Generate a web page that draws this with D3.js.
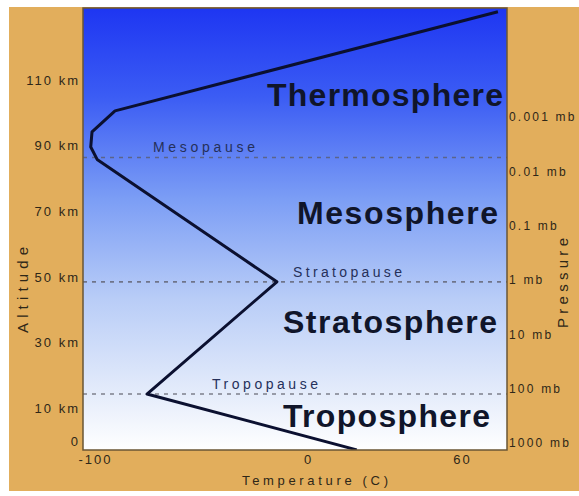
<!DOCTYPE html>
<html>
<head>
<meta charset="utf-8">
<script src="https://cdn.jsdelivr.net/npm/d3@7"></script>
<style>
  html, body { margin: 0; padding: 0; background: #ffffff; }
  svg { display: block; }
  text { font-family: "Liberation Sans", Arial, sans-serif; }
</style>
</head>
<body>
<svg id="chart" width="579" height="496"></svg>
<script>
// ---------------- data ----------------
// temperature profile: [temperature °C, altitude km]
const profileTemp = [19, -75.6, -14.6, -99, -102, -101.4, -90.6, 74];
const profileAlt  = [-2.7, 14.3, 48.5, 85.8, 89.6, 94.2, 100.6, 130.8];

const altTicks = [0, 10, 30, 50, 70, 90, 110];
const altTickLabels = ["0", "10 km", "30 km", "50 km", "70 km", "90 km", "110 km"];

const tempTicks = [-100, 0, 60];
const tempTickLabels = ["-100", "0", "60"];

const pressureTicks = [0.001, 0.01, 0.1, 1, 10, 100, 1000];
const pressureTickLabels = ["0.001 mb", "0.01 mb", "0.1 mb", "1 mb", "10 mb", "100 mb", "1000 mb"];

const pauseNames = ["Tropopause", "Stratopause", "Mesopause"];
const pauseAlts  = [14.3, 48.5, 86.4];

const layerNames = ["Troposphere", "Stratosphere", "Mesosphere", "Thermosphere"];
const layerAlts  = [4.2, 33, 66, 102];   // baseline altitudes of the big labels

// ---------------- layout ----------------
const svg = d3.select("#chart");
const plot = { left: 83, right: 507, top: 8, bottom: 450 };

const x = d3.scaleLinear().domain([-100, 0, 60]).range([95, 308, 462]);
const y = d3.scaleLinear().domain([0, 110]).range([441, 80]);
const yP = d3.scaleLog().domain([1000, 0.001]).range([443, 117]);

// outer background
svg.append("rect").attr("x", 9).attr("y", 7).attr("width", 570).attr("height", 484)
  .attr("fill", "#e2ae5c");

// gradient
const defs = svg.append("defs");
const grad = defs.append("linearGradient").attr("id", "sky")
  .attr("x1", 0).attr("y1", 0).attr("x2", 0).attr("y2", 1);
[[0, "#1e36f2"], [0.2, "#3b5cf4"], [0.43, "#7b9df5"], [0.66, "#b9cdf7"], [0.88, "#e6edfb"], [1, "#ffffff"]]
  .forEach(([o, c]) => grad.append("stop").attr("offset", o).attr("stop-color", c));
defs.append("clipPath").attr("id", "clip").append("rect")
  .attr("x", plot.left).attr("y", plot.top)
  .attr("width", plot.right - plot.left).attr("height", plot.bottom - plot.top);

svg.append("rect")
  .attr("x", plot.left).attr("y", plot.top)
  .attr("width", plot.right - plot.left).attr("height", plot.bottom - plot.top)
  .attr("fill", "url(#sky)");

const g = svg.append("g").attr("clip-path", "url(#clip)");

// pause dotted lines
g.selectAll("line.pause").data(pauseAlts).join("line")
  .attr("class", "pause")
  .attr("x1", plot.left).attr("x2", plot.right)
  .attr("y1", d => y(d)).attr("y2", d => y(d))
  .attr("stroke", "#5a5a66").attr("stroke-opacity", 0.75)
  .attr("stroke-width", 1.6).attr("stroke-dasharray", "4,5");

// pause labels
const pauseX = [212, 293, 153];
g.selectAll("text.pause").data(pauseNames).join("text")
  .attr("class", "pause")
  .attr("x", (d, i) => pauseX[i])
  .attr("y", (d, i) => y(pauseAlts[i]) - 5)
  .attr("font-size", 14)
  .attr("fill", "#25305a")
  .attr("textLength", (d, i) => [106, 109, 102][i])
  .attr("lengthAdjust", "spacing")
  .text(d => d);

// big layer labels
const layerRight = [490, 497, 498, 503];
const layerLen = [207, 214, 201, 236];
g.selectAll("text.layer").data(layerNames).join("text")
  .attr("class", "layer")
  .attr("x", (d, i) => layerRight[i] - layerLen[i])
  .attr("y", (d, i) => y(layerAlts[i]))
  .attr("font-size", 32)
  .attr("font-weight", (d, i) => i === 0 ? 600 : "bold")
  .attr("fill", "#10152a")
  .attr("textLength", (d, i) => layerLen[i])
  .attr("lengthAdjust", "spacing")
  .text(d => d);

// temperature profile
const pts = profileTemp.map((t, i) => [t, profileAlt[i]]);
g.append("path").datum(pts)
  .attr("d", d3.line().x(d => x(d[0])).y(d => y(d[1])))
  .attr("fill", "none").attr("stroke", "#0b1030")
  .attr("stroke-width", 3).attr("stroke-linejoin", "round");

// plot border
svg.append("rect")
  .attr("x", plot.left).attr("y", plot.top)
  .attr("width", plot.right - plot.left).attr("height", plot.bottom - plot.top)
  .attr("fill", "none").attr("stroke", "#6a5634").attr("stroke-width", 1.5);

// left axis (altitude)
const axL = svg.append("g").attr("transform", `translate(${plot.left - 3},0)`)
  .call(d3.axisLeft(y).tickValues(altTicks).tickSize(0).tickPadding(0)
    .tickFormat((d, i) => altTickLabels[i]));
axL.select(".domain").remove();
axL.selectAll("text").attr("font-size", 13).attr("fill", "#2e2718")
  .attr("font-family", "Liberation Sans, Arial, sans-serif")
  .attr("letter-spacing", 2);

// right axis (pressure)
const axR = svg.append("g").attr("transform", `translate(${plot.right + 2},0)`)
  .call(d3.axisRight(yP).tickValues(pressureTicks).tickSize(0).tickPadding(0)
    .tickFormat((d, i) => pressureTickLabels[i]));
axR.select(".domain").remove();
axR.selectAll("text").attr("font-size", 12).attr("fill", "#2e2718")
  .attr("font-family", "Liberation Sans, Arial, sans-serif")
  .attr("letter-spacing", 2.2);

// bottom axis (temperature)
const axB = svg.append("g").attr("transform", `translate(0,${plot.bottom})`)
  .call(d3.axisBottom(x).tickValues(tempTicks).tickSize(0).tickPadding(5)
    .tickFormat((d, i) => tempTickLabels[i]));
axB.select(".domain").remove();
axB.selectAll("text").attr("font-size", 13).attr("fill", "#2e2718")
  .attr("font-family", "Liberation Sans, Arial, sans-serif")
  .attr("letter-spacing", 2);

// axis titles
svg.append("text").attr("x", 315).attr("y", 485)
  .attr("text-anchor", "middle").attr("font-size", 13).attr("fill", "#2e2718")
  .attr("textLength", 146).attr("lengthAdjust", "spacing")
  .text("Temperature (C)");

svg.append("text")
  .attr("transform", "translate(28,290) rotate(-90)")
  .attr("text-anchor", "middle").attr("font-size", 15).attr("fill", "#2e2718")
  .attr("textLength", 86).attr("lengthAdjust", "spacing")
  .text("Altitude");

svg.append("text")
  .attr("transform", "translate(568,283) rotate(-90)")
  .attr("text-anchor", "middle").attr("font-size", 15).attr("fill", "#2e2718")
  .attr("textLength", 90).attr("lengthAdjust", "spacing")
  .text("Pressure");
</script>
</body>
</html>
